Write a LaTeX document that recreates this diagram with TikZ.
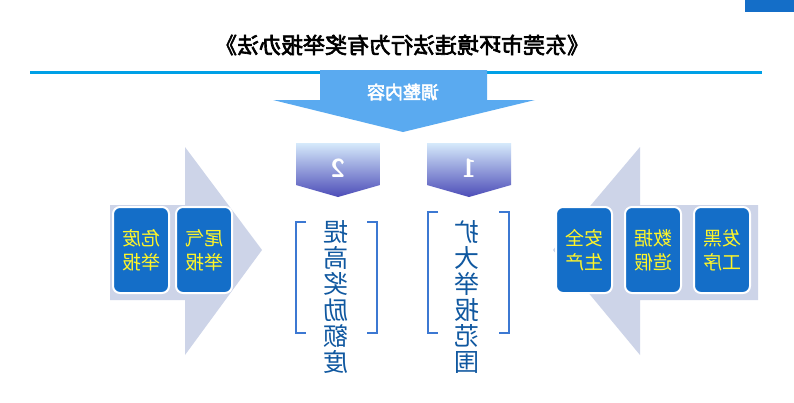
\documentclass[tikz,border=0pt]{standalone}
\usepackage{fontspec}
\newfontfamily\cjk[AutoFakeBold=3]{Noto Sans CJK SC}
\usetikzlibrary{shapes.geometric}
\definecolor{lineblue}{RGB}{0,160,230}
\definecolor{bannerblue}{RGB}{90,170,240}
\definecolor{chevgray}{RGB}{205,212,232}
\definecolor{boxblue}{RGB}{20,110,200}
\definecolor{bracketblue}{RGB}{60,120,210}
\definecolor{txtyellow}{RGB}{255,245,40}
\tikzset{
  mirror/.style={xscale=-1},
  smallbox/.style={draw=white,line width=2pt,fill=boxblue,rounded corners=7pt,
    minimum width=56pt,minimum height=86pt,text=txtyellow,align=center,
    font=\cjk\fontsize{19}{24}\selectfont,inner sep=0pt},
  column/.style={mirror,text=boxblue!80!black,align=center,
    font=\cjk\fontsize{25}{26}\selectfont,inner sep=0pt}
}
\begin{document}
\begin{tikzpicture}[x=1pt,y=-1pt]
  \useasboundingbox (0,0) rectangle (794,402);
  \fill[white] (0,0) rectangle (794,402);
  \fill[boxblue] (745,0) rectangle (794,12);

  % title and rule
  \node[mirror,font=\cjk\bfseries\fontsize{22}{24}\selectfont] (title) at (402,45)
    {《东莞市环境违法行为有奖举报办法》};
  \draw[lineblue,line width=3pt] (30,72) -- (762,72);

  % banner arrow
  \fill[bannerblue] (320,70) -- (487,70) -- (487,100) -- (535,100) -- (403,132)
    -- (273,100) -- (320,100) -- cycle;
  \node[mirror,text=white,font=\cjk\bfseries\fontsize{18}{20}\selectfont] (banner)
    at (403,92) {调整内容};

  % side chevrons
  \fill[chevgray] (110,205) -- (185,205) -- (185,147) -- (262,250) -- (185,355)
    -- (185,300) -- (110,300) -- cycle;
  \fill[chevgray] (758,205) -- (640,205) -- (640,147) -- (553,250) -- (640,355)
    -- (640,300) -- (758,300) -- cycle;

  % small boxes
  \node[smallbox,mirror] (weiqi) at (204,250) {尾气\\举报};
  \node[smallbox,mirror] (weifei) at (141,250) {危废\\举报};
  \node[smallbox,mirror] (anquan) at (584,250) {安全\\生产};
  \node[smallbox,mirror] (shuju) at (653,250) {数据\\造假};
  \node[smallbox,mirror] (fahei) at (722,250) {发黑\\工序};

  % number tabs
  \foreach \n/\cx in {2/338,1/469}{
    \shade[top color=bannerblue!25!white,bottom color=blue!60!black!70!white]
      (\cx-42,143) -- (\cx+42,143) -- (\cx+42,185) -- (\cx,197) -- (\cx-42,185) -- cycle;
    \node[mirror,text=white,font=\sffamily\bfseries\fontsize{26}{28}\selectfont] (num\n)
      at (\cx,168) {\n};
  }

  % brackets
  \draw[bracketblue,line width=2pt] (306,222) -- (296,222) -- (296,333) -- (306,333);
  \draw[bracketblue,line width=2pt] (367,222) -- (377,222) -- (377,333) -- (367,333);
  \draw[bracketblue,line width=2pt] (438,212) -- (428,212) -- (428,333) -- (438,333);
  \draw[bracketblue,line width=2pt] (499,212) -- (509,212) -- (509,333) -- (499,333);

  \node[column,anchor=north] (tigao) at (336,220) {提\\高\\奖\\励\\额\\度};
  \node[column,anchor=north] (kuoda) at (467,220) {扩\\大\\举\\报\\范\\围};
\end{tikzpicture}
\end{document}
